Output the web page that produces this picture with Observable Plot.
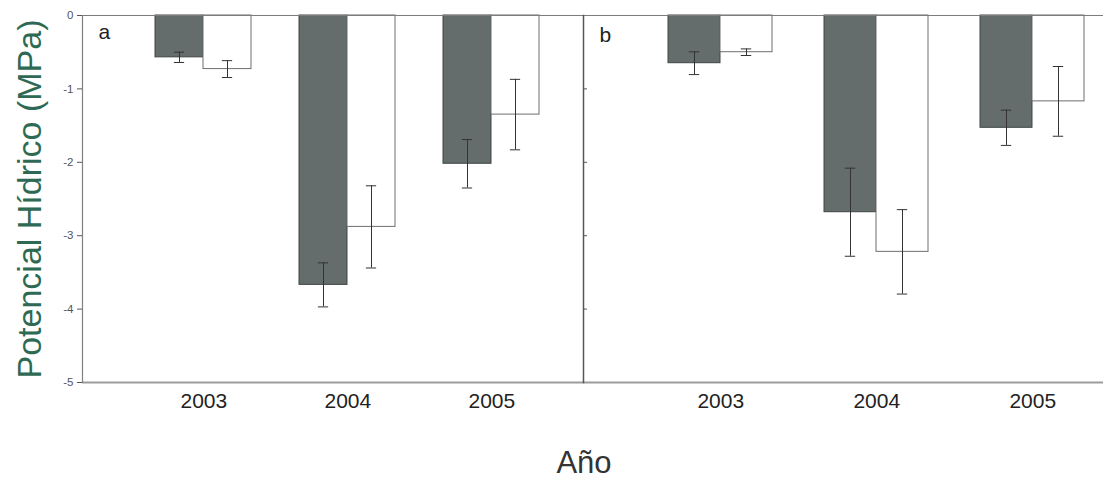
<!DOCTYPE html>
<html>
<head>
<meta charset="utf-8">
<script src="https://cdn.jsdelivr.net/npm/d3@7"></script>
<script src="https://cdn.jsdelivr.net/npm/@observablehq/plot@0.6"></script>
<style>
  html, body { margin: 0; padding: 0; background: #fff; overflow: hidden; }
  #wrap { position: relative; width: 1103px; height: 480px; font-family: "Liberation Sans", Arial, sans-serif; }
  #row { position: absolute; left: 0; top: 0; display: flex; }
  #row svg { display: block; }
  #xlabel { position: absolute; top: 448px; left: 584px; transform: translateX(-50%); font-size: 31px; line-height: 30px; color: #333; white-space: nowrap; }
</style>
</head>
<body>
<div id="wrap">
  <div id="row"></div>
  <div id="xlabel">Año</div>
</div>
<script>
// ---- data ----
const years = ["2003", "2004", "2005"];
const panelNames = ["a", "b"];
// panel a
const aDark = [-0.57, -3.67, -2.02];
const aDarkErr = [0.07, 0.30, 0.33];
const aLight = [-0.73, -2.88, -1.35];
const aLightErr = [0.115, 0.56, 0.48];
// panel b
const bDark = [-0.65, -2.68, -1.53];
const bDarkErr = [0.155, 0.60, 0.24];
const bLight = [-0.50, -3.22, -1.17];
const bLightErr = [0.045, 0.575, 0.475];
const yTicks = [0, -1, -2, -3, -4, -5];
const yLabel = "Potencial Hídrico (MPa)";

const DARK = "#646d6b";
const FONT = "Liberation Sans, Arial, sans-serif";

function rowsFor(dark, darkErr, light, lightErr) {
  const rows = [];
  years.forEach((y, i) => {
    rows.push({year: y, treat: "S", key: y + "|S", value: dark[i], err: darkErr[i]});
    rows.push({year: y, treat: "W", key: y + "|W", value: light[i], err: lightErr[i]});
  });
  return rows;
}

const keys = [];
years.forEach((y, i) => { if (i > 0) keys.push("gap" + i); keys.push(y + "|S", y + "|W"); });

function panel({name, rows, width, marginLeft, paddingOuter, align, withAxis}) {
  const inner = width - marginLeft;
  const bw = inner / (keys.length + 2 * paddingOuter);
  const capInset = (bw - 11) / 2;
  const S = rows.filter(d => d.treat === "S");
  const W = rows.filter(d => d.treat === "W");
  const marks = [
    Plot.barY(S, {x: "key", y: "value", fill: DARK, stroke: "#3e4644", strokeWidth: 1}),
    Plot.barY(W, {x: "key", y: "value", fill: "white", stroke: "#6e6e6e", strokeWidth: 1}),
    Plot.ruleX(rows, {x: "key", y1: d => d.value - d.err, y2: d => d.value + d.err, stroke: "#333", strokeWidth: 1}),
    Plot.tickY(rows, {x: "key", y: d => d.value - d.err, stroke: "#333", strokeWidth: 1, insetLeft: capInset, insetRight: capInset}),
    Plot.tickY(rows, {x: "key", y: d => d.value + d.err, stroke: "#333", strokeWidth: 1, insetLeft: capInset, insetRight: capInset}),
    Plot.ruleY([0], {stroke: "#7c7c7c", strokeWidth: 1.2}),
    Plot.ruleY([-5], {stroke: "#9c9c9c", strokeWidth: 2}),
    Plot.frame({anchor: "left", stroke: withAxis ? "#808080" : "#555", strokeWidth: withAxis ? 1.2 : 1.5}),
    Plot.text([name], {frameAnchor: "top-left", dx: 16, dy: name === "a" ? 9 : 12, fontSize: 21, fill: "#222"}),
    Plot.text(years, {x: y => y + "|S", dx: bw / 2, frameAnchor: "bottom", lineAnchor: "top", dy: 11, fontSize: 21, fill: "#222"})
  ];
  if (withAxis) {
    marks.push(Plot.axisY(yTicks, {anchor: "left", label: null, tickSize: 5, tickPadding: 4, fontSize: 11.5, color: "#555", tickFormat: d => d === 0 ? "0" : String(d)}));
    marks.push(Plot.text([yLabel], {frameAnchor: "left", rotate: -90, dx: -52, textAnchor: "middle", lineAnchor: "middle", fontSize: 34, fill: "#2e6a53"}));
  } else {
    marks.push(Plot.axisY(yTicks.slice(1, -1), {anchor: "left", label: null, tickSize: -4, tickFormat: () => "", color: "#555"}));
  }
  return Plot.plot({
    width, height: 420,
    marginTop: 15, marginBottom: 38, marginLeft, marginRight: 0,
    x: {type: "band", domain: keys, paddingInner: 0, paddingOuter, align, axis: null},
    y: {domain: [-5, 0], axis: null, label: null},
    style: {fontFamily: FONT, background: "transparent", overflow: "visible"},
    marks
  });
}

const row = document.getElementById("row");
row.appendChild(panel({name: panelNames[0], rows: rowsFor(aDark, aDarkErr, aLight, aLightErr), width: 583, marginLeft: 82, paddingOuter: 1.14, align: 0.62, withAxis: true}));
row.appendChild(panel({name: panelNames[1], rows: rowsFor(bDark, bDarkErr, bLight, bLightErr), width: 520, marginLeft: 0, paddingOuter: 0.943, align: 0.82, withAxis: false}));
</script>
</body>
</html>
